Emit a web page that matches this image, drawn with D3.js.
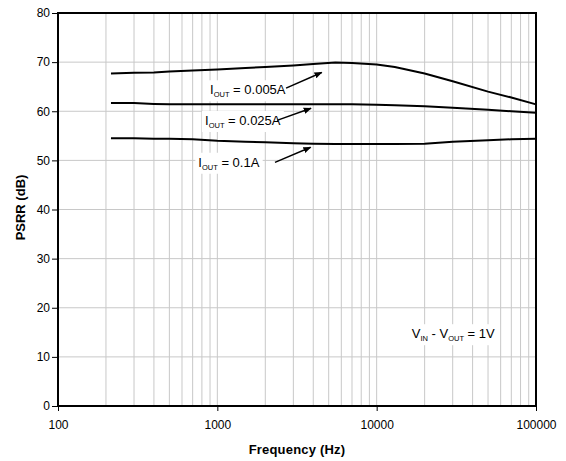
<!DOCTYPE html>
<html>
<head>
<meta charset="utf-8">
<script src="https://cdn.jsdelivr.net/npm/d3@7"></script>
<style>
  body { margin: 0; background: #fff; }
  text { font-family: "Liberation Sans", Arial, sans-serif; }
</style>
</head>
<body>
<div id="chart"></div>
<script>
// Data
const freqs = [215, 300, 400, 500, 700, 1000, 1500, 2000, 3000, 4000, 5500, 7000, 10000, 13000, 20000, 30000, 50000, 70000, 100000];
const psrr005 = [67.7, 67.85, 67.9, 68.1, 68.3, 68.5, 68.8, 69.0, 69.3, 69.6, 69.9, 69.8, 69.5, 69.0, 67.7, 66.1, 64.0, 62.8, 61.4];
const psrr025 = [61.7, 61.7, 61.5, 61.4, 61.4, 61.4, 61.4, 61.4, 61.4, 61.4, 61.4, 61.4, 61.3, 61.2, 61.0, 60.7, 60.3, 60.0, 59.7];
const psrr1 = [54.5, 54.5, 54.4, 54.4, 54.3, 54.0, 53.8, 53.7, 53.5, 53.4, 53.35, 53.35, 53.35, 53.35, 53.4, 53.8, 54.1, 54.3, 54.4];
const series = [psrr005, psrr025, psrr1];

const xTicks = [100, 1000, 10000, 100000];
const yTicks = [0, 10, 20, 30, 40, 50, 60, 70, 80];

// labels: text anchor [freq, dB], arrow from/to [freq, dB]
const labels = [
  { sub: "OUT", rest: " = 0.005A", at: [900, 63.45], from: [2700, 64.7], to: [4520, 67.9] },
  { sub: "OUT", rest: " = 0.025A", at: [837, 57.2], from: [2370, 58.15], to: [3870, 60.6] },
  { sub: "OUT", rest: " = 0.1A", at: [760, 48.7], from: [2300, 49.6], to: [3850, 52.66] }
];

const margin = { top: 13, right: 30, bottom: 55, left: 58 };
const W = 566, H = 461;
const width = W - margin.left - margin.right;
const height = H - margin.top - margin.bottom;

const svg = d3.select("#chart").append("svg")
  .attr("width", W).attr("height", H);

const g = svg.append("g")
  .attr("transform", `translate(${margin.left},${margin.top})`);

const x = d3.scaleLog().domain([100, 100000]).range([0, width]);
const y = d3.scaleLinear().domain([0, 80]).range([height, 0]);

// minor + major vertical gridlines
const vgrid = [];
for (let dec = 100; dec < 100000; dec *= 10) {
  for (let k = 1; k <= 9; k++) vgrid.push(dec * k);
}
g.selectAll(".vgrid").data(vgrid.slice(1)).enter().append("line")
  .attr("x1", d => x(d)).attr("x2", d => x(d))
  .attr("y1", 0).attr("y2", height)
  .attr("stroke", "#c8c8c8").attr("stroke-width", 1);

g.selectAll(".hgrid").data(yTicks.slice(1, -1)).enter().append("line")
  .attr("x1", 0).attr("x2", width)
  .attr("y1", d => y(d)).attr("y2", d => y(d))
  .attr("stroke", "#c8c8c8").attr("stroke-width", 1);

// curves
const line = d3.line().x((d, i) => x(freqs[i])).y(d => y(d));
g.selectAll(".curve").data(series).enter().append("path")
  .attr("d", line)
  .attr("fill", "none").attr("stroke", "#000").attr("stroke-width", 2);

// arrowhead
svg.append("defs").append("marker")
  .attr("id", "arr").attr("viewBox", "0 0 10 10")
  .attr("refX", 9).attr("refY", 5)
  .attr("markerWidth", 8).attr("markerHeight", 8)
  .attr("markerUnits", "userSpaceOnUse")
  .attr("orient", "auto")
  .append("path").attr("d", "M0,1 L10,5 L0,9 Z").attr("fill", "#000");

// text with subscripts on a white box
function subText(parent, parts, px, py, pad) {
  const grp = parent.append("g");
  const bg = grp.append("rect").attr("fill", "#fff");
  const t = grp.append("text").attr("x", px).attr("y", py)
    .attr("font-size", 13).attr("fill", "#000");
  let low = false;
  parts.forEach(p => {
    const ts = t.append("tspan").text(p.s);
    if (p.sub && !low) { ts.attr("font-size", 7.5).attr("dy", 3); low = true; }
    else if (p.sub) { ts.attr("font-size", 7.5); }
    else if (low) { ts.attr("dy", -3); low = false; }
  });
  const bb = t.node().getBBox();
  bg.attr("x", bb.x - pad).attr("y", bb.y - 2)
    .attr("width", bb.width + pad * 2).attr("height", bb.height + 4);
  return grp;
}

labels.forEach(l => {
  subText(g, [{ s: "I" }, { s: l.sub, sub: true }, { s: l.rest }], x(l.at[0]), y(l.at[1]), 3);
  g.append("line")
    .attr("x1", x(l.from[0])).attr("y1", y(l.from[1]))
    .attr("x2", x(l.to[0])).attr("y2", y(l.to[1]))
    .attr("stroke", "#000").attr("stroke-width", 1.5)
    .attr("marker-end", "url(#arr)");
});

// V_IN - V_OUT = 1V
subText(g, [{ s: "V" }, { s: "IN", sub: true }, { s: " - V" }, { s: "OUT", sub: true }, { s: " = 1V" }],
  x(16600), y(13.8), 5);

// frame
g.append("rect").attr("width", width).attr("height", height)
  .attr("fill", "none").attr("stroke", "#000").attr("stroke-width", 2);

// axes
const yAxis = g.append("g")
  .call(d3.axisLeft(y).tickValues(yTicks).tickSize(6).tickPadding(2));
yAxis.select(".domain").remove();
yAxis.selectAll("text").attr("font-size", 12).attr("fill", "#000")
  .style("font-family", "Liberation Sans, Arial, sans-serif");

const xAxis = g.append("g").attr("transform", `translate(0,${height})`)
  .call(d3.axisBottom(x).tickValues(xTicks).tickFormat(d3.format("d")).tickSize(5).tickPadding(9));
xAxis.select(".domain").remove();
xAxis.selectAll("text").attr("font-size", 12).attr("fill", "#000")
  .style("font-family", "Liberation Sans, Arial, sans-serif");

// axis titles
svg.append("text")
  .attr("transform", `translate(25,${margin.top + height / 2 - 2}) rotate(-90)`)
  .attr("text-anchor", "middle")
  .attr("font-size", 13).attr("font-weight", "bold")
  .text("PSRR (dB)");

svg.append("text")
  .attr("x", margin.left + width / 2).attr("y", 454)
  .attr("text-anchor", "middle")
  .attr("font-size", 13).attr("font-weight", "bold")
  .attr("letter-spacing", 0.2)
  .text("Frequency (Hz)");
</script>
</body>
</html>
